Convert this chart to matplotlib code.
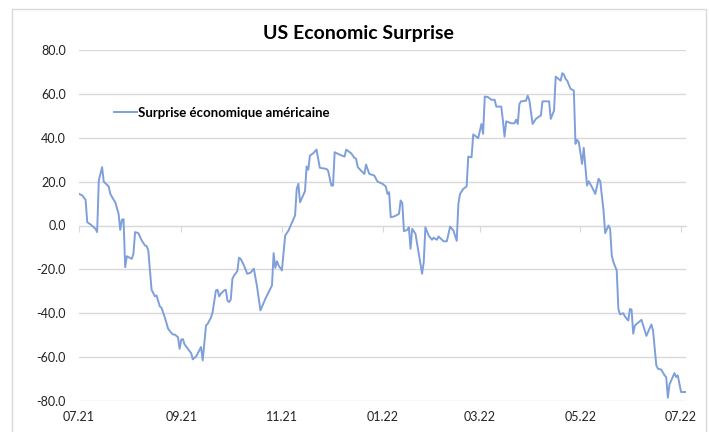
import pandas as pd
import matplotlib
matplotlib.use('Agg')
import matplotlib.pyplot as plt
import matplotlib.dates as mdates
from matplotlib.patches import Rectangle
from matplotlib.ticker import FormatStrFormatter

plt.rcParams['font.family'] = ['Lato', 'DejaVu Sans']

# series: days after the start date, index value
start_date = '2021-07-01'
day_offsets = [0, 2, 4, 5, 7, 10, 11, 12, 13, 14, 15, 18, 19, 21, 22, 24, 25, 26, 27,
               28, 29, 32, 33, 34, 36, 38, 40, 41, 42, 44, 45, 46, 47, 49, 50, 52, 54,
               56, 57, 58, 60, 61, 62, 63, 64, 66, 68, 69, 71, 74, 75, 77, 78, 80, 81,
               83, 84, 85, 86, 88, 89, 90, 91, 92, 93, 94, 96, 97, 98, 100, 102, 104,
               106, 108, 110, 113, 117, 118, 119, 120, 121, 123, 125, 127, 131, 132,
               133, 134, 137, 138, 139, 140, 142, 144, 146, 150, 151, 153, 154, 155,
               158, 161, 162, 165, 167, 168, 169, 171, 173, 174, 176, 179, 181, 184,
               186, 187, 188, 189, 191, 194, 195, 196, 197, 199, 200, 201, 202, 204,
               206, 208, 209, 210, 212, 214, 215, 217, 218, 221, 223, 225, 227, 229,
               230, 231, 233, 235, 236, 238, 239, 240, 242, 244, 245, 246, 248, 250,
               252, 253, 256, 257, 258, 259, 262, 264, 265, 266, 267, 268, 271, 272,
               273, 275, 277, 279, 280, 281, 285, 286, 288, 289, 292, 293, 294, 295,
               296, 298, 300, 301, 302, 303, 305, 306, 308, 309, 311, 313, 315, 316,
               318, 319, 321, 322, 323, 324, 326, 327, 328, 330, 331, 333, 334, 335,
               336, 337, 341, 344, 347, 348, 350, 351, 353, 355, 356, 357, 358, 361,
               362, 363, 365, 368]
surprise = [14.4, 13.7, 11.7, 1.5, 0.5, -1.5, -3.0, 20.5, 23.5, 26.6, 20.0, 17.8, 14.4,
            11.7, 10.6, 5.3, -2.0, 2.6, 2.9, -19.0, -14.0, -15.2, -12.9, -3.0, -3.5,
            -6.8, -9.1, -9.4, -11.4, -29.3, -30.8, -32.3, -31.9, -36.9, -37.5, -41.8,
            -47.0, -49.0, -49.7, -49.7, -50.9, -56.2, -52.0, -51.8, -54.2, -56.2, -58.2,
            -61.0, -59.7, -55.4, -61.5, -45.6, -44.8, -42.0, -39.5, -29.6, -29.3, -32.3,
            -31.1, -29.6, -29.3, -34.2, -34.9, -33.8, -24.3, -22.8, -20.8, -14.7, -15.2,
            -18.2, -22.0, -21.5, -19.7, -28.1, -38.7, -33.4, -27.3, -12.6, -19.3, -16.3,
            -18.2, -20.5, -4.6, -2.3, 4.6, 16.7, 19.0, 10.6, 15.6, 26.9, 25.4, 31.9, 32.9,
            34.6, 26.3, 25.8, 25.0, 18.2, 18.2, 33.4, 32.3, 31.4, 34.6, 32.9, 30.8, 30.4,
            26.6, 25.0, 23.5, 27.8, 23.5, 22.8, 20.0, 19.0, 17.8, 14.4, 15.2, 3.8, 4.1,
            5.3, 11.4, 10.2, -2.6, -2.0, -0.8, -10.6, -1.5, -3.8, -12.9, -22.0, -16.7,
            -0.8, -4.6, -6.5, -5.6, -6.5, -5.0, -7.2, -7.2, -0.5, -2.3, -7.0, 9.9, 14.4,
            16.7, 17.8, 31.4, 31.1, 41.5, 41.0, 39.8, 46.3, 41.8, 58.8, 58.5, 57.3, 57.3,
            54.2, 54.2, 47.8, 40.5, 47.5, 46.6, 46.6, 48.2, 46.3, 55.4, 56.6, 56.9, 59.2,
            57.3, 46.3, 48.6, 49.7, 50.1, 56.6, 56.6, 48.6, 52.4, 67.9, 66.0, 69.4, 68.8,
            66.8, 66.0, 62.3, 61.5, 37.2, 39.0, 38.0, 28.1, 35.4, 18.2, 20.2, 17.5, 14.4,
            21.3, 20.2, 6.8, -3.5, 0.0, -1.5, -13.7, -16.7, -20.5, -38.0, -40.5, -40.0,
            -41.5, -43.3, -38.0, -38.4, -49.3, -45.6, -43.0, -50.3, -45.1, -47.8, -63.8,
            -65.3, -65.7, -68.3, -69.1, -78.5, -72.4, -67.3, -69.1, -68.3, -75.9, -75.9]

y_ticks = [-80, -60, -40, -20, 0, 20, 40, 60, 80]
tick_months = ['2021-07-01', '2021-09-01', '2021-11-01', '2022-01-01',
               '2022-03-01', '2022-05-01', '2022-07-01']
title = 'US Economic Surprise'
series_name = 'Surprise économique américaine'

line_color = '#7f9fdb'
grid_color = '#d9d9d9'


def draw_chart(figure_file):
    dates = pd.Timestamp(start_date) + pd.to_timedelta(day_offsets, unit='D')
    ticks = mdates.date2num(pd.to_datetime(tick_months))

    fig = plt.figure(figsize=(7.1, 4.32), dpi=100)
    # outer chart frame
    fig.patches.append(Rectangle((12 / 710, -0.01), 694 / 710, 1.01 - 9 / 432,
                                 transform=fig.transFigure, fill=False,
                                 ec=grid_color, lw=1))
    ax = fig.add_axes([79 / 710, 31 / 432, 607 / 710, 351 / 432])

    ax.plot(dates, surprise, color=line_color, lw=1.4, label=series_name)

    ax.set_ylim(-80, 80)
    ax.set_yticks(y_ticks)
    ax.yaxis.set_major_formatter(FormatStrFormatter('%.1f'))
    ax.set_xlim(dates[0], dates[-1])
    ax.set_xticks(ticks)
    ax.xaxis.set_major_formatter(mdates.DateFormatter('%m.%y'))
    ax.grid(axis='y', color=grid_color, lw=1)
    ax.set_axisbelow(True)
    for s in ax.spines.values():
        s.set_visible(False)
    ax.tick_params(length=0, labelsize=9, colors='#222222')
    ax.tick_params(axis='y', pad=9.5)
    ax.tick_params(axis='x', pad=7)

    # category axis crosses at zero, with its tick marks there
    sec = ax.secondary_xaxis(0.5)
    sec.set_alignment('bottom')
    sec.set_xticks(ticks)
    sec.tick_params(length=4, color=grid_color, labelbottom=False)
    sec.spines['bottom'].set_color(grid_color)

    fig.text(358 / 710, 1 - 33 / 432, title, ha='center', va='center',
             fontsize=14, fontweight='bold')
    ax.legend(loc='upper left', bbox_to_anchor=(114 / 710, 1 - 107 / 432),
              bbox_transform=fig.transFigure, frameon=False, borderpad=0,
              borderaxespad=0, handlelength=1.75, handletextpad=0.1,
              prop={'size': 9.5, 'weight': 'bold'})

    fig.savefig(figure_file, dpi=100)
    plt.close(fig)


draw_chart('out.png')
